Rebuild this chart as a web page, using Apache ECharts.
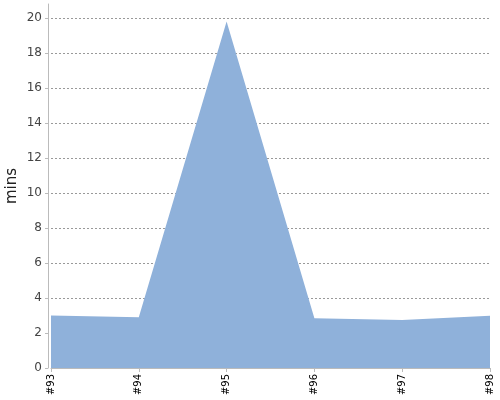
<!DOCTYPE html>
<html>
<head>
<meta charset="utf-8">
<script src="https://cdn.jsdelivr.net/npm/echarts@6/dist/echarts.min.js"></script>
<style>
  html, body { margin: 0; padding: 0; background: #fff; }
  #chart { width: 500px; height: 400px; }
</style>
</head>
<body>
<div id="chart"></div>
<script>
// build labels and duration (mins) per build
var categories = ["#93", "#94", "#95", "#96", "#97", "#98"];
var mins = [3.0, 2.9, 19.8, 2.85, 2.75, 2.98];
var yTicks = { min: 0, max: 20.8, interval: 2 };

var option = {
    animation: false,
    backgroundColor: "#fff",
    textStyle: { fontFamily: "DejaVu Sans" },
    grid: {
        left: 51,
        right: 10,
        top: 4,
        bottom: 32,
        containLabel: false,
        outerBoundsMode: "none"
    },
    xAxis: {
        type: "category",
        boundaryGap: false,
        data: categories,
        axisLine: { lineStyle: { color: "#bbb" } },
        axisTick: { show: true, length: 4, lineStyle: { color: "#bbb" } },
        axisLabel: { rotate: 90, fontSize: 10, color: "#000", margin: 6 }
    },
    yAxis: {
        type: "value",
        min: yTicks.min,
        max: yTicks.max,
        interval: yTicks.interval,
        offset: 3,
        name: "mins",
        nameLocation: "middle",
        nameGap: 28,
        nameMoveOverlap: false,
        nameTextStyle: { fontSize: 15, color: "#222", fontWeight: 500 },
        axisLine: { show: true, lineStyle: { color: "#bbb" } },
        axisTick: { show: true, length: 3, lineStyle: { color: "#bbb" } },
        axisLabel: {
            fontSize: 12, color: "#444", margin: 6,
            showMaxLabel: false
        },
        splitLine: {
            show: true,
            showMaxLine: false,
            lineStyle: { color: "#999", type: [2, 2], width: 1 }
        }
    },
    series: [{
        type: "line",
        data: mins,
        symbol: "none",
        lineStyle: { width: 0 },
        areaStyle: { color: "#8fb1da", opacity: 1 },
        z: 1
    }]
};

echarts.init(document.getElementById("chart")).setOption(option);
</script>
</body>
</html>
